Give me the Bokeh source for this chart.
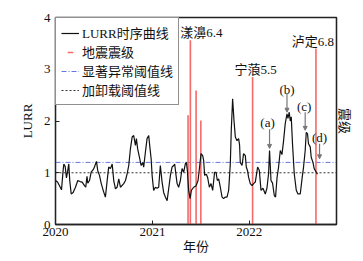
from bokeh.plotting import figure
from bokeh.models import (ColumnDataSource, FixedTicker, LinearAxis, Range1d,
                          Legend, LegendItem, Arrow, NormalHead)
from bokeh.core.properties import value
from bokeh.embed import file_html
from bokeh.resources import INLINE

# ---------------- data ----------------
lurr_year = [
    2020.000, 2020.021, 2020.041, 2020.062, 2020.079, 2020.086, 2020.100, 2020.113,
    2020.127, 2020.137, 2020.147, 2020.162, 2020.182, 2020.206, 2020.230, 2020.253,
    2020.275, 2020.299, 2020.312, 2020.325, 2020.333, 2020.351, 2020.368, 2020.389,
    2020.402, 2020.423, 2020.436, 2020.454, 2020.471, 2020.492, 2020.515, 2020.539,
    2020.549, 2020.567, 2020.585, 2020.591, 2020.601, 2020.619, 2020.636, 2020.653,
    2020.670, 2020.704, 2020.722, 2020.739, 2020.756, 2020.773, 2020.791, 2020.807,
    2020.825, 2020.835, 2020.848, 2020.866, 2020.884, 2020.900, 2020.910, 2020.928,
    2020.945, 2020.962, 2020.972, 2020.987, 2020.997, 2021.013, 2021.031, 2021.048,
    2021.065, 2021.082, 2021.100, 2021.116, 2021.134, 2021.152, 2021.168, 2021.186,
    2021.203, 2021.220, 2021.230, 2021.244, 2021.255, 2021.271, 2021.289, 2021.306,
    2021.323, 2021.340, 2021.351, 2021.361, 2021.374, 2021.389, 2021.402, 2021.426,
    2021.451, 2021.471, 2021.485, 2021.502, 2021.519, 2021.529, 2021.539, 2021.557,
    2021.570, 2021.588, 2021.605, 2021.622, 2021.642, 2021.657, 2021.670, 2021.684,
    2021.701, 2021.719, 2021.735, 2021.753, 2021.770, 2021.787, 2021.804, 2021.814,
    2021.828, 2021.842, 2021.856, 2021.873, 2021.890, 2021.900, 2021.907, 2021.925,
    2021.941, 2021.959, 2021.969, 2021.982, 2021.993, 2022.010, 2022.028, 2022.044,
    2022.062, 2022.086, 2022.103, 2022.121, 2022.141, 2022.165, 2022.182, 2022.199,
    2022.209, 2022.224, 2022.240, 2022.258, 2022.271, 2022.286, 2022.302, 2022.320,
    2022.337, 2022.354, 2022.371, 2022.389, 2022.399, 2022.412, 2022.423, 2022.433,
    2022.446, 2022.464, 2022.485, 2022.502, 2022.526, 2022.546, 2022.560, 2022.577,
    2022.588, 2022.601, 2022.611, 2022.629, 2022.639, 2022.657, 2022.670, 2022.691,
    2022.704,
]
lurr_value = [
    0.85, 0.82, 0.75, 0.67, 1.05, 1.17, 1.12, 0.90,
    1.05, 1.17, 0.85, 0.59, 0.62, 0.72, 0.85, 0.83,
    0.82, 0.75, 0.72, 0.93, 0.80, 0.85, 1.01, 1.06,
    1.11, 1.22, 1.04, 0.95, 0.80, 0.66, 0.53, 0.95,
    1.11, 1.08, 1.17, 1.05, 0.85, 0.69, 0.72, 0.88,
    0.72, 0.79, 0.85, 0.98, 1.14, 1.46, 1.69, 1.72,
    1.53, 1.66, 1.46, 1.30, 1.14, 1.20, 1.11, 1.40,
    1.66, 1.72, 1.53, 1.27, 0.95, 0.66, 0.72, 0.70,
    0.72, 1.14, 0.82, 0.62, 0.53, 0.46, 0.69, 0.95,
    1.11, 1.14, 1.17, 0.95, 0.79, 0.72, 0.85, 1.08,
    1.01, 1.17, 1.20, 1.04, 0.66, 0.50, 0.66, 0.72,
    0.75, 0.85, 1.08, 1.37, 1.33, 1.24, 0.95, 0.97,
    0.91, 0.72, 0.79, 0.66, 1.01, 1.01, 0.85, 0.88,
    0.72, 0.53, 0.50, 0.53, 0.53, 0.66, 1.17, 1.82,
    2.43, 2.01, 1.69, 1.62, 1.66, 1.53, 1.20, 1.14,
    1.37, 1.33, 1.11, 1.04, 0.91, 0.79, 0.75, 0.79,
    0.82, 1.11, 1.05, 0.66, 0.70, 0.59, 0.70, 0.98,
    1.43, 0.85, 0.80, 0.56, 0.53, 0.90, 1.11, 1.43,
    1.35, 1.62, 1.95, 2.14, 2.05, 2.17, 2.00, 2.08,
    1.56, 0.98, 0.66, 0.59, 0.59, 0.91, 1.11, 1.43,
    1.78, 1.75, 1.56, 1.50, 1.30, 1.20, 1.08, 1.01,
    0.97,
]

eq_year = [2021.368, 2021.392, 2021.451, 2021.500, 2022.034, 2022.688]
eq_bar_top = [2.11, 3.56, 2.59, 2.01, 2.85, 3.40]

eq_label_year = [2021.392, 2022.034, 2022.688]
eq_label_top = [3.56, 2.85, 3.40]
eq_label_text = ["漾濞6.4", "宁蒗5.5", "泸定6.8"]

anom_text = ["(a)", "(b)", "(c)", "(d)"]
anom_year = [2022.209, 2022.389, 2022.577, 2022.725]
anom_label_y = [1.98, 2.60, 2.28, 1.69]
anom_arrow_from = [1.84, 2.53, 2.17, 1.56]
anom_arrow_to = [1.47, 2.17, 1.82, 1.27]

significant_threshold = 1.2
loading_threshold = 1.0

x_ticks = [2020, 2021, 2022]
y_ticks = [0, 1, 2, 3, 4]
x_lo, x_hi = 2020.0, 2022.9
y_lo, y_hi = 0.0, 4.0

# ---------------- styling ----------------
SERIF = value("'Liberation Serif', 'Noto Sans CJK SC'")
SERIF_NAME = "'Liberation Serif', 'Noto Sans CJK SC'"
RED = "#f46a6a"
BLUE = "#5566d6"

p = figure(width=363, height=261, output_backend="svg", toolbar_location=None,
           x_range=Range1d(x_lo, x_hi), y_range=Range1d(y_lo, y_hi),
           min_border_left=55, min_border_right=27, min_border_top=17,
           min_border_bottom=37, background_fill_color="white",
           border_fill_color="white")
p.grid.visible = False
p.outline_line_color = "#222222"
p.outline_line_width = 1.3

# threshold lines
r_sig = p.line([x_lo, x_hi], [significant_threshold] * 2, line_color=BLUE,
               line_width=0.9, line_dash="5 2 1 2")
r_load = p.line([x_lo, x_hi], [loading_threshold] * 2, line_color="#333333",
                line_width=1, line_dash="2 2")

# earthquake bars
eq_src = ColumnDataSource(dict(x=eq_year, top=eq_bar_top, base=[0] * len(eq_year)))
p.segment(x0="x", y0="base", x1="x", y1="top", source=eq_src,
          line_color=RED, line_width=1.6)
# legend-only glyph for the magnitude bars (not drawn: y is NaN)
r_eq_leg = p.scatter(x=eq_year[:1], y=[float("nan")], marker="dash", angle=1.5708,
                     size=10, line_color=RED, line_width=1.5)

# LURR curve
r_curve = p.line(lurr_year, lurr_value, line_color="#111111", line_width=1.2)

# earthquake labels
p.text(x=eq_label_year, y=eq_label_top, text=eq_label_text,
       text_font=SERIF, text_font_size="13px", text_color="#111111",
       text_align="center", text_baseline="bottom",
       x_offset=[11, 3, -3], y_offset=[0, 0, 0])

# anomaly arrows and labels
arr_src = ColumnDataSource(dict(x=anom_year, y0=anom_arrow_from, y1=anom_arrow_to))
p.add_layout(Arrow(end=NormalHead(size=4, line_color="#777777", fill_color="#777777",
                                  line_width=1),
                   x_start="x", y_start="y0", x_end="x", y_end="y1",
                   source=arr_src, line_color="#777777", line_width=1.2))
p.text(x=anom_year, y=anom_label_y, text=anom_text, text_font=SERIF,
       text_font_size="13px", text_color="#111111", text_align="center",
       text_baseline="middle", x_offset=[-2, 0, -1, 0])

# axes
for ax in (p.xaxis[0], p.yaxis[0]):
    ax.major_label_text_font = SERIF_NAME
    ax.major_label_text_font_size = "13px"
    ax.major_label_text_color = "#111111"
    ax.axis_label_text_font = SERIF_NAME
    ax.axis_label_text_font_size = "13px"
    ax.axis_label_text_font_style = "normal"
    ax.axis_label_text_color = "#111111"
    ax.axis_line_color = "#222222"
    ax.axis_line_width = 1.3
    ax.major_tick_in = 4
    ax.major_tick_out = 0
    ax.major_tick_line_color = "#222222"
    ax.minor_tick_line_color = None

p.xaxis[0].ticker = FixedTicker(ticks=x_ticks)
p.xaxis[0].axis_label = "年份"
p.xaxis[0].major_label_standoff = 3
p.xaxis[0].axis_label_standoff = 0

p.yaxis[0].ticker = FixedTicker(ticks=y_ticks)
p.yaxis[0].axis_label = "LURR"
p.yaxis[0].major_label_standoff = 5
p.yaxis[0].axis_label_standoff = 6

right = LinearAxis(ticker=FixedTicker(ticks=[]), axis_label="震级",
                   axis_label_text_font=SERIF_NAME, axis_label_text_font_size="13px",
                   axis_label_text_font_style="normal", axis_label_text_color="#111111",
                   axis_line_color="#222222", axis_line_width=1.3,
                   major_tick_line_color=None, minor_tick_line_color=None,
                   axis_label_standoff=0)
p.add_layout(right, "right")

legend = Legend(items=[
    LegendItem(label="LURR时序曲线", renderers=[r_curve]),
    LegendItem(label="地震震级", renderers=[r_eq_leg]),
    LegendItem(label="显著异常阈值线", renderers=[r_sig]),
    LegendItem(label="加卸载阈值线", renderers=[r_load]),
], location="top_left", margin=0, padding=5, spacing=0,
    label_height=14, glyph_height=14, glyph_width=18, label_standoff=3,
    label_text_font=SERIF_NAME, label_text_font_size="13px",
    label_text_color="#111111", border_line_color="#222222", border_line_width=1,
    background_fill_alpha=1.0)
p.add_layout(legend)

open("out.html", "w").write(file_html(p, INLINE))
